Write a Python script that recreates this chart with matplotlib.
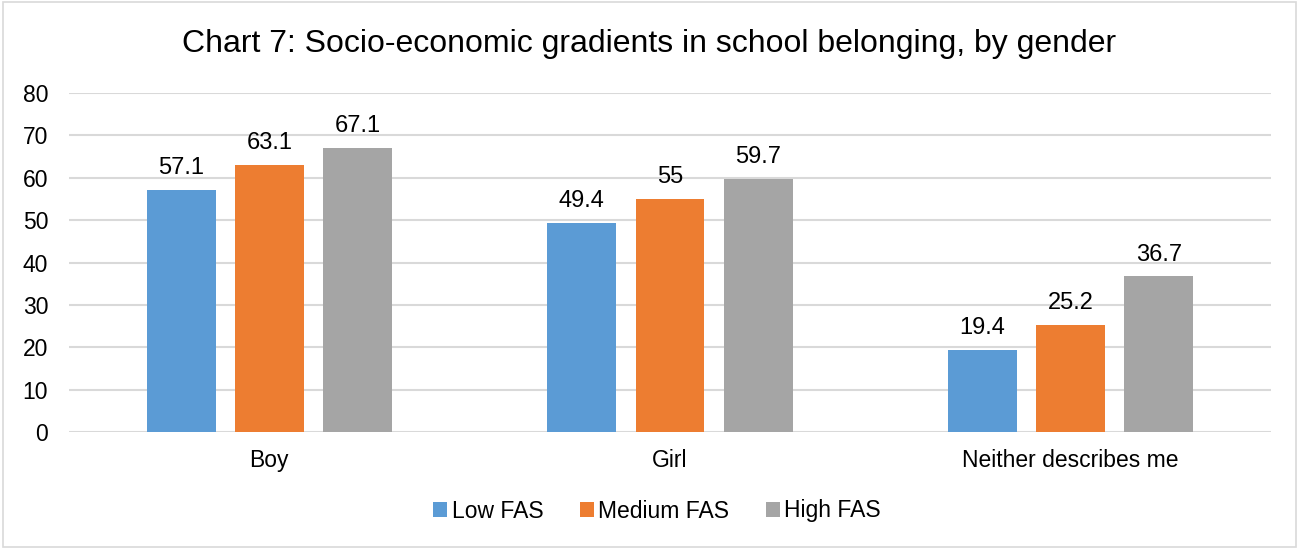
import numpy as np
import matplotlib
matplotlib.use("Agg")
import matplotlib.pyplot as plt
from matplotlib.patches import Rectangle

plt.rcParams['font.family'] = ['Liberation Sans', 'DejaVu Sans']

genders = ['Boy', 'Girl', 'Neither describes me']
series_names = ['Low FAS', 'Medium FAS', 'High FAS']
low_fas = [57.1, 49.4, 19.4]
medium_fas = [63.1, 55, 25.2]
high_fas = [67.1, 59.7, 36.7]
colors = ['#5B9BD5', '#ED7D31', '#A5A5A5']
y_ticks = [0, 10, 20, 30, 40, 50, 60, 70, 80]

fig = plt.figure(figsize=(12.98, 5.49), dpi=100)
ax = fig.add_axes([69 / 1298, 1 - 432 / 549, 1202 / 1298, 339 / 549])

# thin grey frame round the whole chart
fig.patches.append(Rectangle((3 / 1298, 2 / 549), 1293 / 1298, 545 / 549,
                             transform=fig.transFigure, fill=False,
                             edgecolor='#D9D9D9', linewidth=1.2))

x = np.arange(len(genders))
width = 0.172
step = 0.22

for i, (vals, name, col) in enumerate(zip([low_fas, medium_fas, high_fas], series_names, colors)):
    pos = x + (i - 1) * step
    bars = ax.bar(pos, vals, width, color=col, label=name, zorder=3)
    for b, v in zip(bars, vals):
        ax.annotate(f'{v:g}', (b.get_x() + b.get_width() / 2, v),
                    xytext=(0, 11.5), textcoords='offset points',
                    ha='center', va='baseline', fontsize=17, color='#000000')

ax.set_xlim(-0.5, 2.5)
ax.set_ylim(0, 80)
ax.set_yticks(y_ticks)
ax.set_xticks(x)
ax.set_xticklabels(genders)
ax.tick_params(axis='both', length=0, labelsize=16.5, colors='#000000')
ax.tick_params(axis='x', pad=12)
ax.tick_params(axis='y', pad=15)
ax.grid(axis='y', color='#D9D9D9', linewidth=1.5, zorder=0)
for s in ax.spines.values():
    s.set_visible(False)

fig.text(0.5, 1 - 44 / 549, 'Chart 7: Socio-economic gradients in school belonging, by gender',
         ha='center', va='center', fontsize=23, color='#000000')

fig.legend(loc='center', bbox_to_anchor=(657 / 1298, 1 - 511 / 549), ncol=3,
           frameon=False, fontsize=16.5, handlelength=0.6, handleheight=0.6,
           handletextpad=0.2, columnspacing=1.6)

fig.savefig('out.png', dpi=100)
